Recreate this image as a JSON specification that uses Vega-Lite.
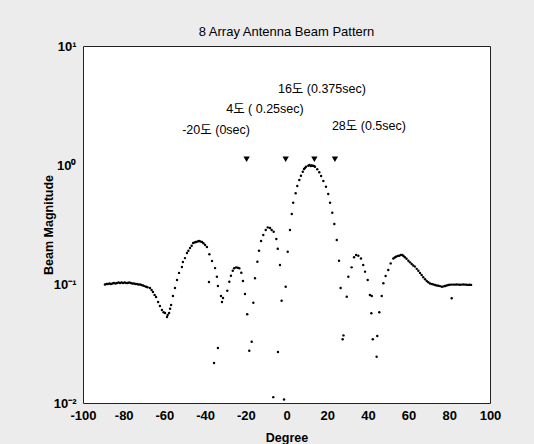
{
  "$schema": "https://vega.github.io/schema/vega-lite/v6.json",
  "width": 407,
  "height": 357,
  "autosize": {"type": "none"},
  "padding": {"left": 83, "top": 46, "right": 44, "bottom": 41},
  "background": "#ececec",
  "config": {
    "view": {"stroke": "#222222", "strokeWidth": 1, "fill": "white"},
    "font": "Liberation Sans, Noto Sans CJK KR"
  },
  "title": {"text": "8 Array Antenna Beam Pattern", "fontSize": 13, "fontWeight": "normal", "color": "black", "offset": 1, "anchor": "middle"},
  "datasets": {
    "beam": [
      {"deg": -89.2, "mag": 0.099}, {"deg": -88.5, "mag": 0.1}, {"deg": -87.8, "mag": 0.1}, {"deg": -87.0, "mag": 0.101},
      {"deg": -86.3, "mag": 0.1}, {"deg": -85.5, "mag": 0.101}, {"deg": -84.8, "mag": 0.102}, {"deg": -84.0, "mag": 0.101},
      {"deg": -83.3, "mag": 0.102}, {"deg": -82.5, "mag": 0.103}, {"deg": -81.8, "mag": 0.102}, {"deg": -81.0, "mag": 0.103},
      {"deg": -80.3, "mag": 0.102}, {"deg": -79.5, "mag": 0.103}, {"deg": -78.8, "mag": 0.102}, {"deg": -78.0, "mag": 0.102},
      {"deg": -77.3, "mag": 0.103}, {"deg": -76.5, "mag": 0.102}, {"deg": -75.8, "mag": 0.101}, {"deg": -75.0, "mag": 0.101},
      {"deg": -74.3, "mag": 0.1}, {"deg": -73.5, "mag": 0.1}, {"deg": -72.8, "mag": 0.099}, {"deg": -72.0, "mag": 0.099},
      {"deg": -71.3, "mag": 0.098}, {"deg": -70.5, "mag": 0.097}, {"deg": -69.8, "mag": 0.096}, {"deg": -69.0, "mag": 0.095},
      {"deg": -68.3, "mag": 0.094}, {"deg": -67.1, "mag": 0.0926}, {"deg": -66.3, "mag": 0.089}, {"deg": -65.6, "mag": 0.0857},
      {"deg": -64.8, "mag": 0.081}, {"deg": -64.1, "mag": 0.0778}, {"deg": -63.1, "mag": 0.0706}, {"deg": -62.2, "mag": 0.0654},
      {"deg": -61.2, "mag": 0.0605}, {"deg": -60.4, "mag": 0.058}, {"deg": -59.7, "mag": 0.0571}, {"deg": -58.7, "mag": 0.0528},
      {"deg": -58.4, "mag": 0.055}, {"deg": -57.7, "mag": 0.0571}, {"deg": -57.2, "mag": 0.062}, {"deg": -56.7, "mag": 0.0666},
      {"deg": -55.8, "mag": 0.0793}, {"deg": -54.8, "mag": 0.0925}, {"deg": -53.8, "mag": 0.108}, {"deg": -52.8, "mag": 0.124},
      {"deg": -51.4, "mag": 0.139}, {"deg": -50.9, "mag": 0.153}, {"deg": -49.9, "mag": 0.165}, {"deg": -48.9, "mag": 0.182},
      {"deg": -48.2, "mag": 0.19}, {"deg": -47.4, "mag": 0.201}, {"deg": -46.6, "mag": 0.21}, {"deg": -45.9, "mag": 0.221},
      {"deg": -45.2, "mag": 0.223}, {"deg": -44.5, "mag": 0.225}, {"deg": -43.7, "mag": 0.228}, {"deg": -43.0, "mag": 0.23},
      {"deg": -42.3, "mag": 0.228}, {"deg": -41.5, "mag": 0.225}, {"deg": -40.8, "mag": 0.22}, {"deg": -40.0, "mag": 0.213},
      {"deg": -39.1, "mag": 0.205}, {"deg": -37.9, "mag": 0.178}, {"deg": -36.6, "mag": 0.156}, {"deg": -35.1, "mag": 0.136},
      {"deg": -34.2, "mag": 0.115}, {"deg": -33.7, "mag": 0.0962}, {"deg": -32.2, "mag": 0.0793}, {"deg": -31.7, "mag": 0.0706},
      {"deg": -31.2, "mag": 0.0762}, {"deg": -38.1, "mag": 0.104}, {"deg": -33.7, "mag": 0.029}, {"deg": -35.6, "mag": 0.0217},
      {"deg": -29.1, "mag": 0.0879}, {"deg": -28.1, "mag": 0.1045}, {"deg": -27.3, "mag": 0.1174}, {"deg": -26.4, "mag": 0.1294},
      {"deg": -25.7, "mag": 0.1355}, {"deg": -24.8, "mag": 0.138}, {"deg": -24.0, "mag": 0.137}, {"deg": -23.2, "mag": 0.1355},
      {"deg": -22.2, "mag": 0.1245}, {"deg": -21.4, "mag": 0.106}, {"deg": -20.4, "mag": 0.0824}, {"deg": -19.3, "mag": 0.0556},
      {"deg": -18.3, "mag": 0.0275}, {"deg": -17.1, "mag": 0.0327},
      {"deg": -16.3, "mag": 0.0696}, {"deg": -15.5, "mag": 0.1117}, {"deg": -14.3, "mag": 0.154}, {"deg": -13.5, "mag": 0.1905},
      {"deg": -12.5, "mag": 0.23}, {"deg": -11.4, "mag": 0.258}, {"deg": -10.2, "mag": 0.284}, {"deg": -9.2, "mag": 0.299},
      {"deg": -8.1, "mag": 0.296}, {"deg": -7.3, "mag": 0.284}, {"deg": -6.3, "mag": 0.275}, {"deg": -5.0, "mag": 0.239},
      {"deg": -4.3, "mag": 0.198}, {"deg": -3.2, "mag": 0.1445}, {"deg": -2.4, "mag": 0.0724}, {"deg": -0.4, "mag": 0.0949},
      {"deg": -4.2, "mag": 0.0268}, {"deg": -6.5, "mag": 0.0112}, {"deg": -1.2, "mag": 0.0107},
      {"deg": 0.6, "mag": 0.187}, {"deg": 1.7, "mag": 0.284}, {"deg": 2.6, "mag": 0.388}, {"deg": 3.3, "mag": 0.482},
      {"deg": 4.5, "mag": 0.578}, {"deg": 5.3, "mag": 0.666}, {"deg": 6.3, "mag": 0.748}, {"deg": 7.1, "mag": 0.813},
      {"deg": 8.0, "mag": 0.878}, {"deg": 8.6, "mag": 0.926}, {"deg": 9.1, "mag": 0.943}, {"deg": 9.6, "mag": 0.968},
      {"deg": 10.7, "mag": 0.987}, {"deg": 11.3, "mag": 1.0}, {"deg": 11.9, "mag": 0.981}, {"deg": 12.3, "mag": 0.99},
      {"deg": 12.9, "mag": 0.987}, {"deg": 13.5, "mag": 0.981}, {"deg": 14.0, "mag": 0.968}, {"deg": 15.1, "mag": 0.92},
      {"deg": 16.1, "mag": 0.868}, {"deg": 17.0, "mag": 0.808}, {"deg": 18.1, "mag": 0.734}, {"deg": 19.4, "mag": 0.657},
      {"deg": 20.5, "mag": 0.57}, {"deg": 21.4, "mag": 0.482}, {"deg": 22.5, "mag": 0.397}, {"deg": 23.5, "mag": 0.319},
      {"deg": 24.7, "mag": 0.234}, {"deg": 25.8, "mag": 0.157}, {"deg": 26.6, "mag": 0.0925}, {"deg": 27.6, "mag": 0.0343},
      {"deg": 28.0, "mag": 0.037},
      {"deg": 29.6, "mag": 0.0782}, {"deg": 30.4, "mag": 0.115}, {"deg": 32.0, "mag": 0.138}, {"deg": 33.2, "mag": 0.168},
      {"deg": 34.2, "mag": 0.175}, {"deg": 35.3, "mag": 0.173}, {"deg": 36.6, "mag": 0.164}, {"deg": 37.7, "mag": 0.1445},
      {"deg": 38.6, "mag": 0.127}, {"deg": 39.9, "mag": 0.108}, {"deg": 41.0, "mag": 0.0808}, {"deg": 41.9, "mag": 0.0793},
      {"deg": 41.7, "mag": 0.0567}, {"deg": 42.4, "mag": 0.0343}, {"deg": 44.3, "mag": 0.0245}, {"deg": 44.6, "mag": 0.0366},
      {"deg": 45.6, "mag": 0.0578},
      {"deg": 46.8, "mag": 0.0793}, {"deg": 47.6, "mag": 0.1014}, {"deg": 48.7, "mag": 0.1167}, {"deg": 50.0, "mag": 0.131},
      {"deg": 51.2, "mag": 0.149}, {"deg": 52.5, "mag": 0.164}, {"deg": 53.2, "mag": 0.167}, {"deg": 53.8, "mag": 0.1695},
      {"deg": 54.6, "mag": 0.172}, {"deg": 55.4, "mag": 0.173}, {"deg": 56.2, "mag": 0.175}, {"deg": 56.9, "mag": 0.175},
      {"deg": 57.5, "mag": 0.172}, {"deg": 58.2, "mag": 0.168}, {"deg": 59.0, "mag": 0.163}, {"deg": 59.9, "mag": 0.157},
      {"deg": 60.7, "mag": 0.152}, {"deg": 61.5, "mag": 0.147}, {"deg": 62.3, "mag": 0.143}, {"deg": 63.1, "mag": 0.14},
      {"deg": 64.0, "mag": 0.134}, {"deg": 64.8, "mag": 0.129}, {"deg": 65.6, "mag": 0.124}, {"deg": 66.4, "mag": 0.119},
      {"deg": 67.2, "mag": 0.114}, {"deg": 68.1, "mag": 0.1095}, {"deg": 68.9, "mag": 0.106}, {"deg": 69.7, "mag": 0.1033},
      {"deg": 70.5, "mag": 0.101}, {"deg": 71.4, "mag": 0.1}, {"deg": 72.2, "mag": 0.099}, {"deg": 73.0, "mag": 0.098},
      {"deg": 73.8, "mag": 0.097}, {"deg": 74.6, "mag": 0.0967}, {"deg": 75.4, "mag": 0.096}, {"deg": 76.3, "mag": 0.0949},
      {"deg": 77.1, "mag": 0.0955}, {"deg": 77.9, "mag": 0.0962}, {"deg": 78.7, "mag": 0.097}, {"deg": 79.5, "mag": 0.098},
      {"deg": 80.3, "mag": 0.0985}, {"deg": 81.2, "mag": 0.0988}, {"deg": 82.0, "mag": 0.0988}, {"deg": 82.8, "mag": 0.0988},
      {"deg": 83.6, "mag": 0.099}, {"deg": 84.4, "mag": 0.0988}, {"deg": 85.2, "mag": 0.0985}, {"deg": 86.1, "mag": 0.0988},
      {"deg": 86.9, "mag": 0.099}, {"deg": 87.7, "mag": 0.0988}, {"deg": 88.5, "mag": 0.0985}, {"deg": 89.3, "mag": 0.0983},
      {"deg": 90.0, "mag": 0.0985}, {"deg": 90.7, "mag": 0.0983}, {"deg": 81.2, "mag": 0.0758}
    ],
    "markers": [
      {"deg": -19.6, "mag": 1.12}, {"deg": -0.4, "mag": 1.12}, {"deg": 13.7, "mag": 1.12}, {"deg": 23.8, "mag": 1.12}
    ],
    "notes": [
      {"deg": -34.6, "mag": 1.97, "label": "-20도 (0sec)"},
      {"deg": -10.6, "mag": 2.96, "label": "4도 ( 0.25sec)"},
      {"deg": 17.4, "mag": 4.35, "label": "16도 (0.375sec)"},
      {"deg": 40.5, "mag": 2.13, "label": "28도 (0.5sec)"}
    ]
  },
  "encoding": {
    "x": {
      "field": "deg", "type": "quantitative",
      "scale": {"domain": [-100, 100], "nice": false},
      "axis": {
        "values": [-100, -80, -60, -40, -20, 0, 20, 40, 60, 80, 100],
        "labelExpr": "replace(datum.label, '−', '-')",
        "title": "Degree", "titleFontSize": 12.5, "titleFontWeight": "bold", "titleColor": "black", "titlePadding": 9,
        "labelFontSize": 13, "labelFontWeight": "bold", "labelColor": "black", "labelPadding": 6, "labelFlush": false, "labelOverlap": false,
        "ticks": false, "domain": false, "grid": false
      }
    },
    "y": {
      "field": "mag", "type": "quantitative",
      "scale": {"type": "log", "domain": [0.01, 10], "nice": false},
      "axis": {
        "values": [0.01, 0.1, 1, 10],
        "labelExpr": "datum.value >= 5 ? '10¹' : datum.value >= 0.5 ? '10⁰' : datum.value >= 0.05 ? '10⁻¹' : '10⁻²'",
        "title": "Beam Magnitude", "titleFontSize": 12.5, "titleFontWeight": "bold", "titleColor": "black", "titlePadding": -2,
        "labelFontSize": 13, "labelFontWeight": "bold", "labelColor": "black", "labelPadding": 7, "labelFlush": false, "labelOverlap": false,
        "ticks": false, "domain": false, "grid": false
      }
    }
  },
  "layer": [
    {
      "data": {"name": "beam"},
      "mark": {"type": "circle", "size": 6, "color": "black", "opacity": 1}
    },
    {
      "data": {"name": "markers"},
      "mark": {"type": "point", "shape": "triangle-down", "filled": true, "size": 40, "color": "black", "opacity": 1}
    },
    {
      "data": {"name": "notes"},
      "mark": {"type": "text", "fontSize": 12.5, "color": "black", "baseline": "middle", "align": "center"},
      "encoding": {"text": {"field": "label", "type": "nominal"}}
    }
  ]
}
